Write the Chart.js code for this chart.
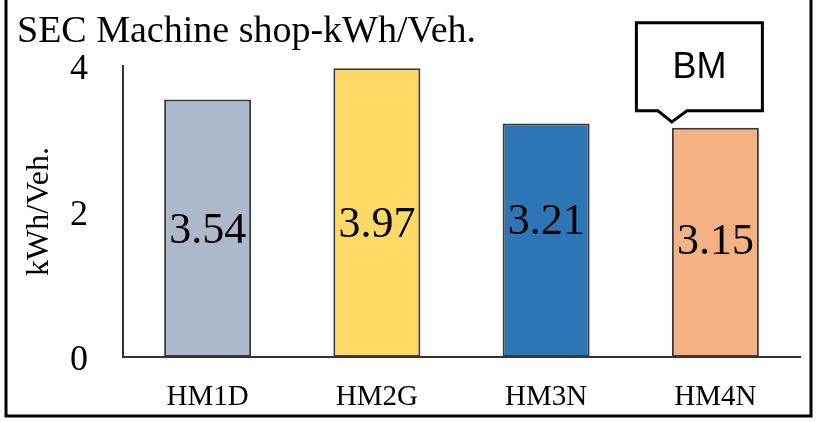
<!DOCTYPE html>
<html>
<head>
<meta charset="utf-8">
<title>SEC Machine shop</title>
<script src="https://cdn.jsdelivr.net/npm/chart.js@4.4.1/dist/chart.umd.min.js"></script>
<style>
  html, body { margin: 0; padding: 0; background: #fff; }
  canvas { display: block; }
</style>
</head>
<body>
<canvas id="c" width="820" height="422"></canvas>
<script>
// Specific energy consumption per vehicle, by machine-shop line
const categories = ['HM1D', 'HM2G', 'HM3N', 'HM4N'];
const secValues = [3.54, 3.97, 3.21, 3.15];
const barColors = ['#ADB9CA', '#FFD966', '#2E75B6', '#F4B183'];
const yTicks = [0, 2, 4];
const chartTitle = 'SEC Machine shop-kWh/Veh.';
const yAxisTitle = 'kWh/Veh.';
const benchmarkLabel = 'BM';
const benchmarkIndex = 3;

const SERIF = '"Liberation Serif", "DejaVu Serif", serif';
const SANS = '"Liberation Sans", Arial, sans-serif';

// Vertical nudges for the value labels inside each bar
const labelNudge = [3, 13, -18, 0];

const framePlugin = {
  id: 'frame',
  afterDraw(chart) {
    const ctx = chart.ctx;
    ctx.save();
    ctx.strokeStyle = '#000';
    ctx.lineWidth = 3;
    ctx.strokeRect(6, -5, 805, 421);
    ctx.restore();
  }
};

const titlePlugin = {
  id: 'cornerTitle',
  afterDraw(chart) {
    const ctx = chart.ctx;
    ctx.save();
    ctx.fillStyle = '#000';
    ctx.font = '38px ' + SERIF;
    ctx.textAlign = 'left';
    ctx.textBaseline = 'alphabetic';
    ctx.fillText(chartTitle, 17, 42);
    ctx.restore();
  }
};

const valueLabelPlugin = {
  id: 'valueLabels',
  afterDatasetsDraw(chart) {
    const ctx = chart.ctx;
    const meta = chart.getDatasetMeta(0);
    ctx.save();
    ctx.fillStyle = '#000';
    ctx.font = '44px ' + SERIF;
    ctx.textAlign = 'center';
    ctx.textBaseline = 'middle';
    meta.data.forEach((bar, i) => {
      const mid = (bar.y + bar.base) / 2 + labelNudge[i];
      ctx.fillText(secValues[i].toFixed(2), bar.x, mid);
    });
    ctx.restore();
  }
};

const calloutPlugin = {
  id: 'benchmarkCallout',
  afterDraw(chart) {
    const bar = chart.getDatasetMeta(0).data[benchmarkIndex];
    if (!bar) return;
    const ctx = chart.ctx;
    const tipX = bar.x - bar.width / 2;
    const tipY = bar.y - 6;
    const boxW = 126, boxH = 88;
    const cx = bar.x - 16;
    const left = cx - boxW / 2, right = cx + boxW / 2;
    const bottom = tipY - 11, top = bottom - boxH;
    ctx.save();
    ctx.beginPath();
    ctx.moveTo(left, top);
    ctx.lineTo(right, top);
    ctx.lineTo(right, bottom);
    ctx.lineTo(tipX + 15, bottom);
    ctx.lineTo(tipX, tipY);
    ctx.lineTo(tipX - 14, bottom);
    ctx.lineTo(left, bottom);
    ctx.closePath();
    ctx.fillStyle = '#fff';
    ctx.fill();
    ctx.lineWidth = 3;
    ctx.lineJoin = 'miter';
    ctx.strokeStyle = '#000';
    ctx.stroke();
    ctx.fillStyle = '#000';
    ctx.font = '36px ' + SANS;
    ctx.textAlign = 'center';
    ctx.textBaseline = 'middle';
    ctx.fillText(benchmarkLabel, cx, (top + bottom) / 2 + 1);
    ctx.restore();
  }
};

new Chart(document.getElementById('c'), {
  type: 'bar',
  data: {
    labels: categories,
    datasets: [{
      data: secValues,
      backgroundColor: barColors,
      borderColor: '#3a3a3a',
      borderWidth: 2,
      borderSkipped: false,
      categoryPercentage: 1,
      barPercentage: 0.514
    }]
  },
  options: {
    responsive: false,
    animation: false,
    devicePixelRatio: 1,
    layout: { padding: { top: 66, left: 14, right: 20, bottom: 0 } },
    plugins: {
      legend: { display: false },
      title: { display: false },
      tooltip: { enabled: false }
    },
    scales: {
      x: {
        grid: { display: false, drawTicks: false },
        border: { display: true, color: '#333', width: 2 },
        ticks: {
          color: '#000',
          font: { family: SERIF, size: 29 },
          padding: 23
        },
        afterFit(scale) { scale.height = 65; }
      },
      y: {
        min: 0,
        max: 4,
        grid: { display: false, drawTicks: false },
        border: { display: true, color: '#333', width: 2 },
        afterBuildTicks(scale) { scale.ticks = yTicks.map(v => ({ value: v })); },
        ticks: {
          color: '#000',
          font: { family: SERIF, size: 36 },
          padding: 35,
          labelOffset: 4
        },
        title: {
          display: true,
          text: yAxisTitle,
          color: '#000',
          font: { family: SERIF, size: 32 },
          padding: { top: 6, bottom: 0 }
        },
        afterFit(scale) { scale.width = 109; }
      }
    }
  },
  plugins: [framePlugin, titlePlugin, valueLabelPlugin, calloutPlugin]
});
</script>
</body>
</html>
